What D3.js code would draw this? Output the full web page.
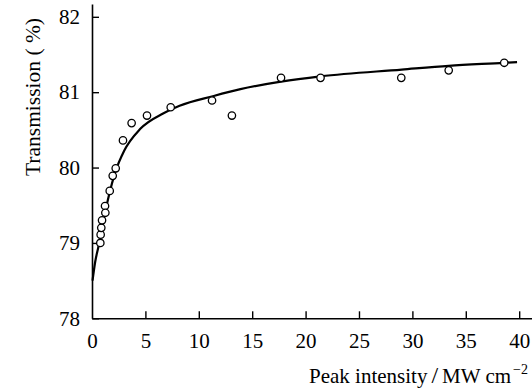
<!DOCTYPE html>
<html>
<head>
<meta charset="utf-8">
<script src="https://cdn.jsdelivr.net/npm/d3@7"></script>
<style>
  body { margin: 0; background: #fff; }
  svg text { font-family: "Liberation Serif", "Times New Roman", serif; fill: #000; }
</style>
</head>
<body>
<div id="chart"></div>
<script>
// measured points
const intensity = [0.78, 0.81, 0.87, 0.94, 1.22, 1.25, 1.66, 1.94, 2.22, 2.9, 3.71, 5.15, 7.37, 11.24, 13.1, 17.7, 21.4, 28.96, 33.4, 38.6];
const transmission = [79.0, 79.11, 79.2, 79.3, 79.49, 79.4, 79.69, 79.89, 79.99, 80.36, 80.59, 80.69, 80.8, 80.89, 80.69, 81.19, 81.19, 81.19, 81.29, 81.39];

// fitted curve
const fitX = [0.05, 0.3, 0.6, 1.0, 1.5, 2.2, 3.0, 4.5, 6.7, 8.2, 11.4, 13.9, 17.7, 21.4, 29.0, 33.4, 38.6, 39.8];
const fitY = [78.5, 78.75, 78.95, 79.25, 79.58, 79.95, 80.22, 80.51, 80.72, 80.82, 80.95, 81.04, 81.14, 81.21, 81.3, 81.35, 81.39, 81.4];

const xTicks = [0, 5, 10, 15, 20, 25, 30, 35, 40];
const yTicks = [78, 79, 80, 81, 82];

const width = 532, height = 392;
const fontSize = "21px";

const svg = d3.select("#chart").append("svg")
    .attr("width", width)
    .attr("height", height);

const x = d3.scaleLinear().domain([0, 41.2]).range([92, 532]);
const y = d3.scaleLinear().domain([78, 82.17]).range([318.3, 4]);

const xAxis = svg.append("g")
    .attr("transform", "translate(0," + y(78) + ")")
    .call(d3.axisBottom(x).tickValues(xTicks).tickFormat(d3.format("d"))
        .tickSizeInner(-7).tickSizeOuter(0).tickPadding(15));

const yAxis = svg.append("g")
    .attr("transform", "translate(" + x(0) + ",0)")
    .call(d3.axisLeft(y).tickValues(yTicks).tickFormat(d3.format("d"))
        .tickSizeInner(-7).tickSizeOuter(0).tickPadding(12));

[xAxis, yAxis].forEach(g => {
    g.select(".domain").attr("stroke", "#000").attr("stroke-width", 1.6);
    g.selectAll(".tick line").attr("stroke", "#000").attr("stroke-width", 1.4);
    g.selectAll(".tick text")
        .attr("font-family", "Liberation Serif, Times New Roman, serif")
        .attr("font-size", fontSize)
        .attr("fill", "#000");
});
// no tick mark at the origin on the x axis
xAxis.selectAll(".tick").filter(d => d === 0).select("line").remove();

// fit line
const line = d3.line()
    .x((d, i) => x(fitX[i]))
    .y((d, i) => y(fitY[i]))
    .curve(d3.curveMonotoneX);

svg.append("path")
    .datum(fitX)
    .attr("d", line)
    .attr("fill", "none")
    .attr("stroke", "#000")
    .attr("stroke-width", 2.2);

// data points
svg.append("g").selectAll("circle")
    .data(intensity)
    .enter()
    .append("circle")
    .attr("cx", d => x(d))
    .attr("cy", (d, i) => y(transmission[i]))
    .attr("r", 3.7)
    .attr("fill", "#fff")
    .attr("stroke", "#000")
    .attr("stroke-width", 1.3);

// axis titles
svg.append("text")
    .attr("transform", "translate(40,97) rotate(-90)")
    .attr("text-anchor", "middle")
    .style("font-size", "21.5px")
    .text("Transmission ( %)");

const xl = svg.append("text")
    .attr("x", 528)
    .attr("y", 383)
    .attr("text-anchor", "end")
    .style("font-size", fontSize);
xl.append("tspan").text("Peak intensity");
xl.append("tspan").attr("dx", 4).style("font-size", "24px").text("/");
xl.append("tspan").attr("dx", 4).text("MW cm");
xl.append("tspan").attr("dx", 2).attr("dy", -9).style("font-size", "14px").text("\u22122");
</script>
</body>
</html>
